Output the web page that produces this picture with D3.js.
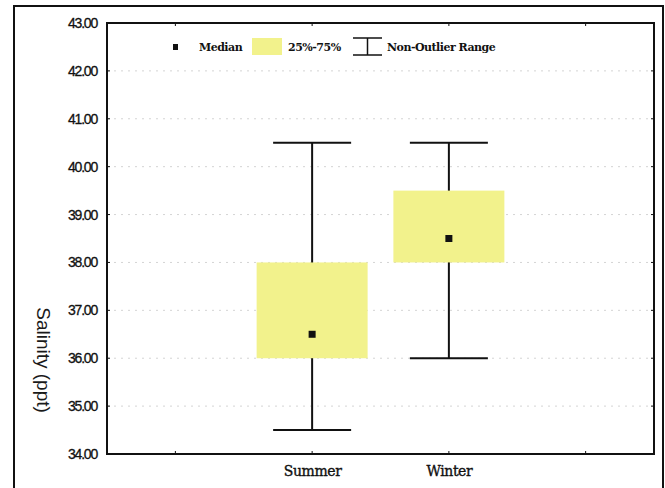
<!DOCTYPE html>
<html><head><meta charset="utf-8">
<script src="https://cdn.jsdelivr.net/npm/d3@7"></script>
<style>body{margin:0;background:#fff}</style>
</head><body>
<script>
const slots = ["", "Summer", "Winter", " "];
const categories = ["Summer", "Winter"];
const medians = [36.5, 38.5];
const q1 = [36.0, 38.0];
const q3 = [38.0, 39.5];
const whiskerLow = [34.5, 36.0];
const whiskerHigh = [40.5, 40.5];
const yTicks = [34, 35, 36, 37, 38, 39, 40, 41, 42, 43];

const W = 665, H = 488;
const m = {left: 107, right: 654, top: 23, bottom: 454};
const svg = d3.select("body").append("svg").attr("width", W).attr("height", H);

svg.append("rect").attr("x", 14).attr("y", 6).attr("width", 649).attr("height", 500)
  .attr("fill", "none").attr("stroke", "#111").attr("stroke-width", 2);

const x = d3.scalePoint().domain(slots).range([m.left, m.right]).padding(0.5);
const y = d3.scaleLinear().domain([34, 43]).range([m.bottom, m.top]);

// grid
svg.append("g").selectAll("line").data(yTicks.slice(1, -1)).join("line")
  .attr("x1", m.left).attr("x2", m.right).attr("y1", d => y(d)).attr("y2", d => y(d))
  .attr("stroke", "#d4d4d4").attr("stroke-width", 1).attr("stroke-dasharray", "2,5");

// y axis labels
const yAxis = d3.axisLeft(y).tickValues(yTicks).tickFormat(d3.format(".2f")).tickSize(0).tickPadding(10);
const ga = svg.append("g").attr("transform", `translate(${m.left},0)`).call(yAxis);
ga.select(".domain").remove();
ga.selectAll("text").attr("font-family", "Liberation Sans, Arial, sans-serif")
  .attr("font-size", 14).attr("letter-spacing", "-1.2").attr("fill", "#111")
  .attr("stroke", "#111").attr("stroke-width", 0.3);

// inner ticks left/right
svg.append("g").selectAll("line").data(yTicks).join("line")
  .attr("x1", m.left).attr("x2", m.left + 3).attr("y1", d => y(d)).attr("y2", d => y(d))
  .attr("stroke", "#111");
svg.append("g").selectAll("line").data(yTicks).join("line")
  .attr("x1", m.right).attr("x2", m.right - 3).attr("y1", d => y(d)).attr("y2", d => y(d))
  .attr("stroke", "#111");
// top/bottom ticks
svg.append("g").selectAll("line").data(slots).join("line")
  .attr("x1", d => x(d)).attr("x2", d => x(d)).attr("y1", m.top).attr("y2", m.top + 3).attr("stroke", "#111");
svg.append("g").selectAll("line").data(slots).join("line")
  .attr("x1", d => x(d)).attr("x2", d => x(d)).attr("y1", m.bottom).attr("y2", m.bottom - 3).attr("stroke", "#111");

// x labels
const xAxis = d3.axisBottom(x).tickValues(categories).tickSize(0).tickPadding(12);
const gx = svg.append("g").attr("transform", `translate(0,${m.bottom})`).call(xAxis);
gx.select(".domain").remove();
gx.selectAll("text").attr("font-family", "DejaVu Serif, serif").attr("font-size", 14)
  .attr("letter-spacing", "-0.4").attr("fill", "#111").attr("stroke", "#111").attr("stroke-width", 0.35);

// frame
svg.append("rect").attr("x", m.left).attr("y", m.top).attr("width", m.right - m.left)
  .attr("height", m.bottom - m.top).attr("fill", "none").attr("stroke", "#111").attr("stroke-width", 2);

// boxes
const boxW = 111, capW = 78;
categories.forEach((c, i) => {
  const cx = x(c);
  const g = svg.append("g");
  g.append("line").attr("x1", cx).attr("x2", cx).attr("y1", y(whiskerHigh[i])).attr("y2", y(whiskerLow[i]))
    .attr("stroke", "#111").attr("stroke-width", 2);
  [whiskerHigh[i], whiskerLow[i]].forEach(v => {
    g.append("line").attr("x1", cx - capW / 2).attr("x2", cx + capW / 2).attr("y1", y(v)).attr("y2", y(v))
      .attr("stroke", "#111").attr("stroke-width", 2);
  });
  g.append("rect").attr("x", cx - boxW / 2).attr("width", boxW).attr("y", y(q3[i]))
    .attr("height", y(q1[i]) - y(q3[i])).attr("fill", "#f2f28c");
  g.append("rect").attr("x", cx - 3.5).attr("y", y(medians[i]) - 3.5).attr("width", 7).attr("height", 7).attr("fill", "#111");
});

// y title
svg.append("text").attr("transform", "translate(37,360) rotate(90)").attr("text-anchor", "middle")
  .attr("font-family", "Liberation Sans, Arial, sans-serif").attr("font-size", 19).attr("fill", "#1a1a1a")
  .text("Salinity (ppt)");

// legend
const lg = svg.append("g").attr("font-family", "DejaVu Serif, serif").attr("font-size", 11)
  .attr("font-weight", "bold").attr("letter-spacing", "-0.5").attr("fill", "#111");
lg.append("rect").attr("x", 173).attr("y", 44).attr("width", 5).attr("height", 6).attr("fill", "#111");
lg.append("text").attr("x", 199).attr("y", 51).text("Median");
lg.append("rect").attr("x", 252).attr("y", 38).attr("width", 30).attr("height", 17).attr("fill", "#f2f28c");
lg.append("text").attr("x", 288).attr("y", 51).text("25%-75%");
lg.append("line").attr("x1", 353).attr("x2", 382).attr("y1", 38).attr("y2", 38).attr("stroke", "#111").attr("stroke-width", 1.5);
lg.append("line").attr("x1", 353).attr("x2", 382).attr("y1", 55).attr("y2", 55).attr("stroke", "#111").attr("stroke-width", 1.5);
lg.append("line").attr("x1", 367.5).attr("x2", 367.5).attr("y1", 38).attr("y2", 55).attr("stroke", "#111").attr("stroke-width", 1.5);
lg.append("text").attr("x", 387).attr("y", 51).text("Non-Outlier Range");
</script>
</body></html>
